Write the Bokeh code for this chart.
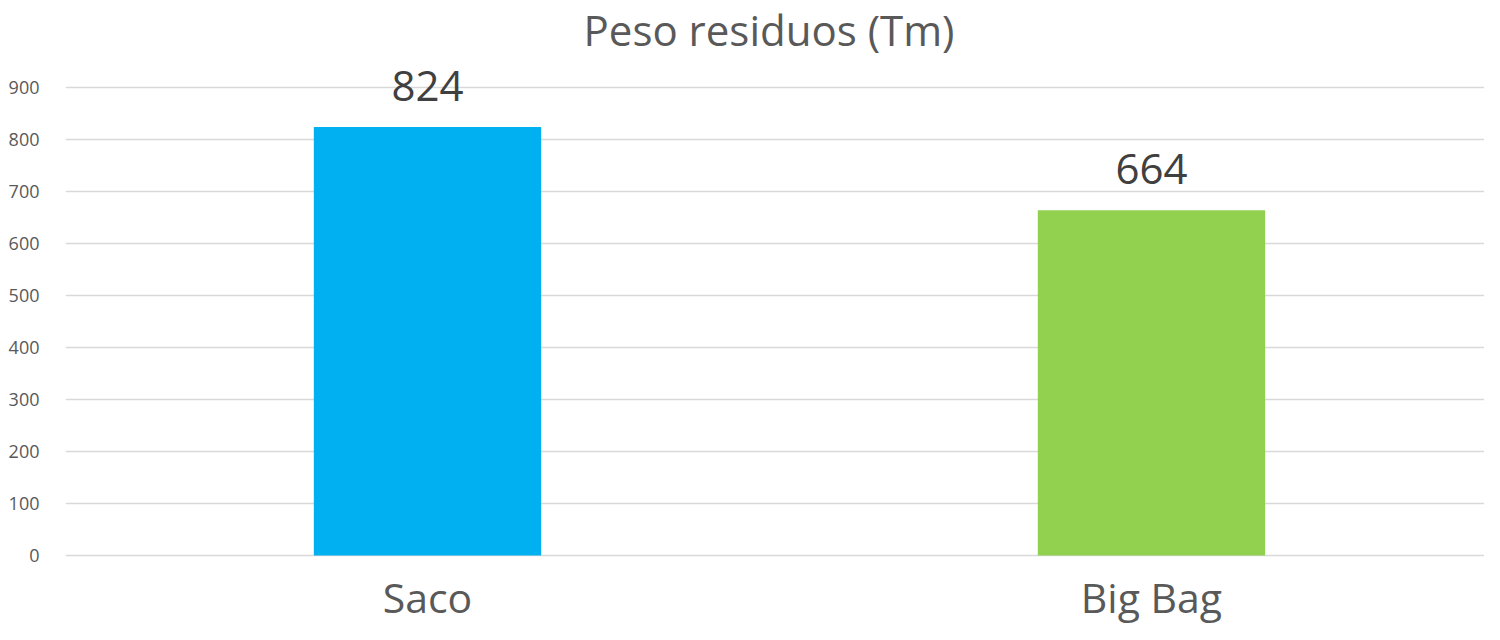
from bokeh.plotting import figure
from bokeh.models import ColumnDataSource, Range1d, FixedTicker, LabelSet, Label
from bokeh.core.properties import value
from bokeh.embed import file_html
from bokeh.resources import INLINE

categories = ["Saco", "Big Bag"]
values = [824, 664]
colors = ["#00B0F0", "#92D050"]
y_ticks = [0, 100, 200, 300, 400, 500, 600, 700, 800, 900]
title_text = "Peso residuos (Tm)"

xs = [i + 0.5 for i in range(len(categories))]
source = ColumnDataSource(dict(x=xs, top=values, color=colors,
                               label=[str(v) for v in values],
                               cat=categories, base=[0] * len(categories)))

x_start, x_end = 0.0, 1.96
y_start, y_end = -132.7, 1067.3

p = figure(width=1484, height=624, output_backend="svg", toolbar_location=None,
           x_range=Range1d(x_start, x_end), y_range=Range1d(y_start, y_end),
           x_axis_location=None,
           min_border_left=65, min_border_right=0, min_border_top=0,
           min_border_bottom=0)
p.outline_line_color = None
p.background_fill_color = "white"
p.border_fill_color = "white"

p.vbar(x="x", top="top", width=0.314, bottom=0, color="color",
       line_color=None, source=source)

labels = LabelSet(x="x", y="top", text="label", source=source,
                  text_align="center", text_baseline="alphabetic",
                  y_offset=26, text_font=value("Open Sans"),
                  text_font_size="42px", text_color="#404040")
p.add_layout(labels)

cat_labels = LabelSet(x="x", y="base", text="cat", source=source,
                      text_align="center", text_baseline="alphabetic",
                      y_offset=-58, text_font=value("Open Sans"),
                      text_font_size="41px", text_color="#595959")
p.add_layout(cat_labels)

title = Label(x=(x_start + x_end) / 2, y=y_end, text=title_text,
              x_offset=-6, y_offset=-29, text_align="center",
              text_baseline="alphabetic", text_font="Open Sans",
              text_font_size="42px", text_color="#595959")
p.add_layout(title)

p.xgrid.grid_line_color = None
p.ygrid.grid_line_color = "#d9d9d9"
p.ygrid.grid_line_width = 1.5
p.ygrid.ticker = FixedTicker(ticks=y_ticks)

p.yaxis.ticker = FixedTicker(ticks=y_ticks)
p.yaxis.axis_line_color = None
p.yaxis.major_tick_line_color = None
p.yaxis.minor_tick_line_color = None
p.yaxis.major_label_standoff = 20
p.yaxis.major_label_text_font = "Open Sans"
p.yaxis.major_label_text_font_size = "18px"
p.yaxis.major_label_text_color = "#595959"

open("out.html", "w").write(file_html(p, INLINE))
